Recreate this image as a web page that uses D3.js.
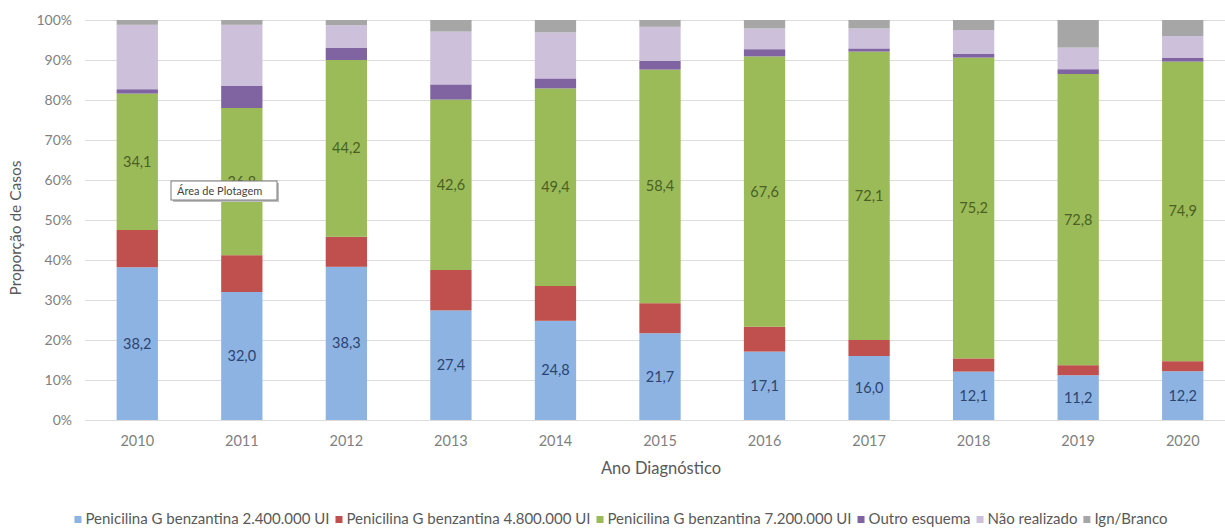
<!DOCTYPE html>
<html>
<head>
<meta charset="utf-8">
<script src="https://cdn.jsdelivr.net/npm/d3@7"></script>
<style>
  html, body { margin: 0; padding: 0; background: #fff; }
  svg { display: block; font-family: Lato, "Open Sans", "Liberation Sans", sans-serif; }
</style>
</head>
<body>
<svg id="chart" width="1225" height="529"></svg>
<script>
// Years of diagnosis
const years = ["2010","2011","2012","2013","2014","2015","2016","2017","2018","2019","2020"];

// Share of cases (%) per treatment scheme
const pen24 = [38.2, 32.0, 38.3, 27.4, 24.8, 21.7, 17.1, 16.0, 12.1, 11.2, 12.2];
const pen48 = [9.3, 9.2, 7.5, 10.1, 8.7, 7.5, 6.2, 4.0, 3.3, 2.5, 2.5];
const pen72 = [34.1, 36.8, 44.2, 42.6, 49.4, 58.4, 67.6, 72.1, 75.2, 72.8, 74.9];
const outro = [1.1, 5.5, 3.1, 3.8, 2.5, 2.2, 1.8, 0.8, 1.0, 1.2, 1.0];
const naoRealizado = [16.1, 15.3, 5.6, 13.2, 11.5, 8.5, 5.2, 5.0, 5.9, 5.4, 5.4];
const ignBranco = [1.2, 1.2, 1.3, 2.9, 3.1, 1.7, 2.1, 2.1, 2.5, 6.9, 4.0];

const seriesNames = [
  "Penicilina G benzantina 2.400.000 UI",
  "Penicilina G benzantina 4.800.000 UI",
  "Penicilina G benzantina 7.200.000 UI",
  "Outro esquema",
  "Não realizado",
  "Ign/Branco"
];
const seriesValues = [pen24, pen48, pen72, outro, naoRealizado, ignBranco];
const seriesColors = ["#8db3e2", "#c0504d", "#9bbb59", "#8064a2", "#ccc0da", "#a6a6a6"];
// Only these series carry value labels
const labelColors = ["#2c4470", null, "#4a6024", null, null, null];

const yTicks = [0, 10, 20, 30, 40, 50, 60, 70, 80, 90, 100];

const svg = d3.select("#chart");
const margin = { left: 85, top: 20, right: 1235, bottom: 420 };

const x = d3.scaleBand().domain(years).range([margin.left, margin.right]).paddingInner(0.605).paddingOuter(0.3025);
const y = d3.scaleLinear().domain([0, 100]).range([margin.bottom, margin.top]);

// Table for stacking
const rows = years.map((yr, i) => {
  const r = { year: yr };
  seriesNames.forEach((s, k) => { r[s] = seriesValues[k][i]; });
  return r;
});
const stacked = d3.stack().keys(seriesNames)(rows);

// Gridlines
svg.append("g")
  .selectAll("line")
  .data(yTicks)
  .join("line")
  .attr("x1", margin.left)
  .attr("x2", margin.right)
  .attr("y1", d => y(d) + 0.5)
  .attr("y2", d => y(d) + 0.5)
  .attr("stroke", "#dcdcdc")
  .attr("stroke-width", 1);

// Y axis labels
const yAxis = d3.axisLeft(y).tickValues(yTicks).tickFormat(d => d + "%").tickSize(0).tickPadding(13);
const gy = svg.append("g").attr("transform", `translate(${margin.left},0)`).call(yAxis);
gy.select(".domain").remove();
gy.selectAll("text").attr("fill", "#7f7f7f").style("font-size", "14px").style("font-family", "Lato, sans-serif");

// X axis labels
const xAxis = d3.axisBottom(x).tickSize(0).tickPadding(16);
const gx = svg.append("g").attr("transform", `translate(0,${margin.bottom})`).call(xAxis);
gx.select(".domain").remove();
gx.selectAll("text").attr("fill", "#7f7f7f").style("font-size", "14.5px").style("font-family", "Lato, sans-serif");

// Bars
const layers = svg.append("g")
  .selectAll("g")
  .data(stacked)
  .join("g")
  .attr("fill", (d, i) => seriesColors[i]);

layers.selectAll("rect")
  .data(d => d)
  .join("rect")
  .attr("x", d => x(d.data.year))
  .attr("width", x.bandwidth())
  .attr("y", d => y(d[1]))
  .attr("height", d => y(d[0]) - y(d[1]));

// Value labels
stacked.forEach((layer, i) => {
  if (!labelColors[i]) return;
  svg.append("g")
    .selectAll("text")
    .data(layer)
    .join("text")
    .attr("x", d => x(d.data.year) + x.bandwidth() / 2)
    .attr("y", d => y((d[0] + d[1]) / 2))
    .attr("dy", "0.35em")
    .attr("text-anchor", "middle")
    .attr("fill", labelColors[i])
    .style("font-size", "14.5px")
    .text(d => d3.format(".1f")(d[1] - d[0]).replace(".", ","));
});

// Axis titles
svg.append("text")
  .attr("transform", "translate(21,228) rotate(-90)")
  .attr("text-anchor", "middle")
  .attr("fill", "#595959")
  .style("font-size", "15.5px")
  .text("Proporção de Casos");

svg.append("text")
  .attr("x", 661)
  .attr("y", 474)
  .attr("text-anchor", "middle")
  .attr("fill", "#595959")
  .style("font-size", "16.5px")
  .text("Ano Diagnóstico");

// Legend
const legend = svg.append("g").attr("transform", "translate(0,524)");
const items = legend.selectAll("g").data(seriesNames).join("g");
items.append("rect")
  .attr("width", 7).attr("height", 7).attr("y", -8)
  .attr("fill", (d, i) => seriesColors[i]);
items.append("text")
  .attr("x", 11)
  .attr("fill", "#595959")
  .style("font-size", "15px")
  .text(d => d);
let pos = 0;
const widths = [];
items.each(function () { widths.push(this.getBBox().width); });
const gap = 6;
const total = d3.sum(widths) + gap * (widths.length - 1);
let start = 621 - total / 2;
items.attr("transform", (d, i) => {
  const t = `translate(${start + pos},0)`;
  pos += widths[i] + gap;
  return t;
});

// Hover hint box over the plot area
const tip = svg.append("g").attr("transform", "translate(171,181)");
tip.append("rect").attr("x", 2).attr("y", 2).attr("width", 106).attr("height", 19).attr("fill", "#bdbdbd");
tip.append("rect").attr("width", 106).attr("height", 19).attr("fill", "#fff").attr("stroke", "#7a7a7a");
tip.append("text").attr("x", 6).attr("y", 13.5).attr("fill", "#444").style("font-size", "11px").text("Área de Plotagem");
</script>
</body>
</html>
